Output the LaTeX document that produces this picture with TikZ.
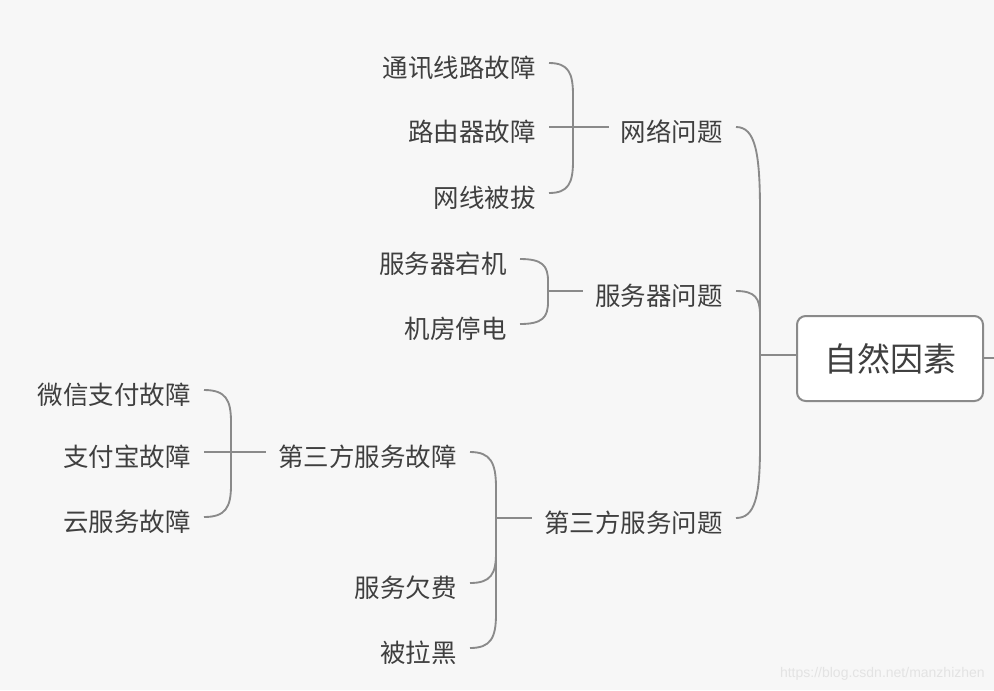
\documentclass[tikz,border=0pt]{standalone}
\usepackage{fontspec}
\setmainfont{Noto Sans CJK SC}
\newfontfamily\wmfont{Liberation Sans}
\usetikzlibrary{calc}
\definecolor{bg}{HTML}{F7F7F7}
\definecolor{txtc}{HTML}{3F3F3F}
\definecolor{linec}{HTML}{8A8A8A}
\definecolor{wmc}{HTML}{E3E3E3}
% text node: name, right x, line y, text
\newcommand\tnode[4]{%
  \node[txt, anchor=base east] (#1) at (#2, #3+14) {#4};
  \coordinate (#1o) at ($(#1.base east)+(13,-14)$);
  \coordinate (#1i) at ($(#1.base west)+(-12,-14)$);
}
% brace connector: child, trunk coordinate, vertical reach h (px, + = down)
\newcommand\bconn[3]{%
  \draw[conn] (#1o) .. controls ($(#1o)!0.8!(#1o -| #2)$) and ($(#1o -| #2)+(0,{0.3*(#3)})$) .. ($(#1o -| #2)+(0,{#3})$) -- (#2);
}
\begin{document}
\begin{tikzpicture}[x=0.75pt,y=-0.75pt,
  txt/.style={font=\fontsize{19.1pt}{23pt}\selectfont, text=txtc, inner sep=0pt},
  conn/.style={draw=linec, line width=1.4pt},
  rootbox/.style={draw=linec, line width=1.5pt, fill=white, rounded corners=6.5pt,
    minimum width=139.5pt, minimum height=63.75pt, inner sep=0pt,
    font=\fontsize{24.75pt}{28pt}\selectfont, text=txtc}]
\useasboundingbox (0,0) rectangle (994,690);
\fill[bg] (0,0) rectangle (994,690);

% root
\node[rootbox] (root) at (890,358.5) {自然因素};
\coordinate (TR) at (760,355);
\coordinate (edge) at (994,358);

% level 1
\tnode{A}{723}{127}{网络问题}
\tnode{B}{723}{291}{服务器问题}
\tnode{C}{723}{518}{第三方服务问题}

% level 2
\tnode{Aa}{536}{63}{通讯线路故障}
\tnode{Ab}{536}{127}{路由器故障}
\tnode{Ac}{536}{193}{网线被拔}
\tnode{Ba}{507}{259}{服务器宕机}
\tnode{Bb}{507}{324}{机房停电}
\tnode{Ca}{457}{452}{第三方服务故障}
\tnode{Cb}{457}{583}{服务欠费}
\tnode{Cc}{457}{648}{被拉黑}

% level 3
\tnode{Caa}{191}{390}{微信支付故障}
\tnode{Cab}{191}{452}{支付宝故障}
\tnode{Cac}{191}{517}{云服务故障}

% trunks
\coordinate (TA) at (573,127);
\coordinate (TB) at (548,291);
\coordinate (TC) at (496,518);
\coordinate (TCa) at (231,452);

% root connectors
\bconn{A}{TR}{84}
\bconn{B}{TR}{24}
\bconn{C}{TR}{-72}
\draw[conn] (TR) -- (TR -| root.west);
\draw[conn] (root.east |- edge) -- (edge);

% 网络问题
\bconn{Aa}{TA}{32}
\draw[conn] (Abo) -- (TA);
\bconn{Ac}{TA}{-32}
\draw[conn] (TA) -- (Ai);

% 服务器问题
\bconn{Ba}{TB}{22}
\bconn{Bb}{TB}{-22}
\draw[conn] (TB) -- (Bi);

% 第三方服务问题
\bconn{Ca}{TC}{36}
\bconn{Cb}{TC}{-30}
\bconn{Cc}{TC}{-34}
\draw[conn] (TC) -- (Ci);

% 第三方服务故障
\bconn{Caa}{TCa}{32}
\draw[conn] (Cabo) -- (TCa);
\bconn{Cac}{TCa}{-32}
\draw[conn] (TCa) -- (Cai);

% watermark
\node[font=\wmfont\fontsize{10.5pt}{12pt}\selectfont, text=wmc, anchor=base east, inner sep=0pt] (wm) at (985,677) {https://blog.csdn.net/manzhizhen};
\end{tikzpicture}
\end{document}
